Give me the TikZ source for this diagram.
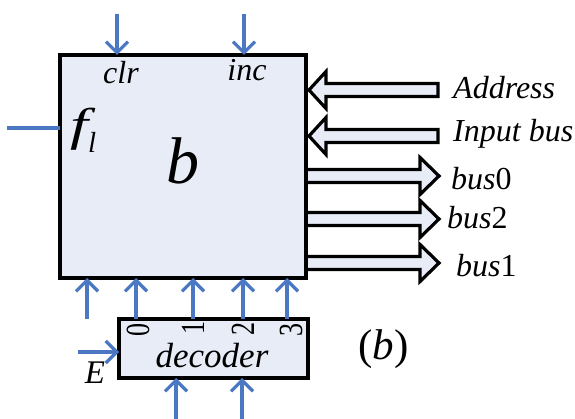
\documentclass[tikz,border=0pt]{standalone}
\usepackage{fontspec}
\setmainfont{Liberation Serif}
\usetikzlibrary{arrows.meta}
\definecolor{wire}{HTML}{4A78C2}
\definecolor{boxfill}{HTML}{E8ECF7}
\tikzset{
  x=1pt,y=-1pt,
  blockbox/.style={draw=black,fill=boxfill,line width=3.2pt,line join=miter,inner sep=0pt,outer sep=0pt,anchor=north west},
  wirearrow/.style={draw=wire,line width=3.2pt,-{Straight Barb[length=11pt,width=22pt,line width=3.2pt]}},
  wireline/.style={draw=wire,line width=3.2pt},
  bus/.style={draw=black,fill=boxfill,line width=3.2pt,line join=miter},
  lab/.style={inner sep=0pt,font=\itshape\fontsize{32}{32}\selectfont},
  num/.style={inner sep=0pt,font=\fontsize{26}{26}\selectfont,rotate=90}
}
\newcommand{\busright}[2]{\draw[bus] (#1,#2) ++(0,-6.5) -- ++(114,0) -- ++(0,-12) -- ++(19,18.5) -- ++(-19,18.5) -- ++(0,-12) -- ++(-114,0) -- cycle;}
\newcommand{\busleft}[2]{\draw[bus] (#1,#2) -- ++(17,-18.5) -- ++(0,12) -- ++(112,0) -- ++(0,13) -- ++(-112,0) -- ++(0,12) -- cycle;}
\newcommand{\tallnum}[1]{\scalebox{1}[1.3]{#1}}
\begin{document}
\begin{tikzpicture}
\useasboundingbox (0,0) rectangle (575,419);
% block arrows
\busleft{309}{90}
\busleft{309}{136}
\busright{306}{176}
\busright{306}{219}
\busright{306}{263}
% boxes
\node[blockbox,minimum width=246pt,minimum height=223pt] (b) at (60,55) {};
\node[blockbox,minimum width=189pt,minimum height=59pt] (dec) at (119,319) {};
% free ends
\coordinate (clrin) at (117,14);
\coordinate (incin) at (244,14);
\coordinate (flin) at (7,128);
\coordinate (ein) at (78,352);
\coordinate (da) at (176,419);
\coordinate (db) at (242,419);
\coordinate (free) at (87,319);
% wires
\draw[wirearrow] (clrin) -- (clrin |- b.north);
\draw[wirearrow] (incin) -- (incin |- b.north);
\draw[wireline] (flin) -- (flin -| b.west);
\draw[wirearrow] (free) -- (free |- b.south);
\draw[wirearrow] (136,319) -- (136,278);
\draw[wirearrow] (193,319) -- (193,278);
\draw[wirearrow] (243,319) -- (243,278);
\draw[wirearrow] (287,319) -- (287,278);
\draw[wirearrow] (ein) -- (ein -| dec.west);
\draw[wirearrow] (da) -- (da |- dec.south);
\draw[wirearrow] (db) -- (db |- dec.south);
% labels
\node[lab] (tclr) at (121,73) {clr};
\node[lab] (tinc) at (247,70) {inc};
\node[lab,anchor=base west,font=\itshape\fontsize{46}{46}\selectfont] (tf) at (70,141) {\scalebox{1.4}[1]{f}\raisebox{-12pt}{\fontsize{29}{29}\selectfont l}};
\node[lab,font=\itshape\fontsize{66}{66}\selectfont] (tb) at (183,161) {b};
\node[lab,anchor=west] (ta) at (453,88) {Address};
\node[lab,anchor=west] (ti) at (453,134) {Input bus};
\node[lab,anchor=west] (t0) at (451,179) {bus\upshape 0};
\node[lab,anchor=west] (t2) at (447,218) {bus\upshape 2};
\node[lab,anchor=west] (t1) at (456,266) {bus\upshape 1};
\node[num] (n0) at (138,330) {\tallnum{0}};
\node[num] (n1) at (193,328) {\tallnum{1}};
\node[num] (n2) at (243,329) {\tallnum{2}};
\node[num] (n3) at (291,330) {\tallnum{3}};
\node[lab,font=\itshape\fontsize{35}{35}\selectfont] (td) at (212,356) {decoder};
\node[lab,font=\itshape\fontsize{33}{33}\selectfont] (te) at (95,373) {E};
\node[lab,font=\fontsize{43}{43}\selectfont,anchor=west] (tp) at (358,349) {(\textit{b})};
\end{tikzpicture}
\end{document}
